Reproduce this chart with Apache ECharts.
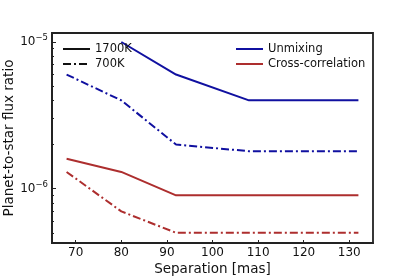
<!DOCTYPE html>
<html><head><meta charset="utf-8">
<script src="https://cdn.jsdelivr.net/npm/echarts@6/dist/echarts.min.js"></script>
<style>html,body{margin:0;padding:0;background:#fff}#c{width:415px;height:277px}</style>
</head><body><div id="c"></div>
<script>
const separation = [68, 80, 92, 108, 132];
const unmixing1700 = [null, 1.0e-5, 6.0e-6, 4.0e-6, 4.0e-6];
const unmixing700 = [6.0e-6, 4.0e-6, 2.0e-6, 1.8e-6, 1.8e-6];
const cc1700 = [1.6e-6, 1.3e-6, 9.0e-7, 9.0e-7, 9.0e-7];
const cc700 = [1.3e-6, 7.0e-7, 5.0e-7, 5.0e-7, 5.0e-7];
const xTicks = [70, 80, 90, 100, 110, 120, 130];
const yMajor = [1e-6, 1e-5];
const yMinor = [5e-7, 6e-7, 7e-7, 8e-7, 9e-7, 2e-6, 3e-6, 4e-6, 5e-6, 6e-6, 7e-6, 8e-6, 9e-6];

const BLUE = '#1010a0', RED = '#ad2e2e';
const DASHDOT = [8, 3, 2, 3];
const font = 'DejaVu Sans';
function pts(ys){ return separation.map((x,i)=> ys[i]==null ? null : [x, ys[i]]).filter(p=>p); }
function line(name, ys, color, dash){
  return {name, type:'line', data: pts(ys), symbol:'none', animation:false,
    lineStyle:{color, width:2, type: dash ? DASHDOT : 'solid'}, itemStyle:{color}, z:3};
}
const chart = echarts.init(document.getElementById('c'), null, {renderer:'canvas'});
const common = {min:4.26e-7, max:1.152e-5};
const legendCommon = {orient:'vertical', itemWidth:27, itemHeight:14, itemGap:3, selectedMode:false,
  itemStyle:{opacity:0, borderWidth:0}, textStyle:{fontFamily:font, fontSize:11.5, color:'#111'}};
chart.setOption({
  animation:false,
  textStyle:{fontFamily:font},
  grid:{left:52, right:42, top:33, bottom:34, outerBoundsMode:'none', containLabel:false, show:true, borderColor:'#222', borderWidth:1.8, backgroundColor:'transparent'},
  legend:[
    Object.assign({data:[{name:'1700K', lineStyle:{type:'solid'}}, {name:'700K', lineStyle:{type:DASHDOT}}], left:57, top:38}, legendCommon),
    Object.assign({data:['Unmixing','Cross-correlation'], left:230, top:38}, legendCommon)
  ],
  xAxis:{type:'value', min:64.8, max:135.2, splitLine:{show:false},
    name:'Separation [mas]', nameLocation:'middle', nameGap:19, nameMoveOverlap:false,
    nameTextStyle:{fontFamily:font, fontSize:13.5, color:'#111'},
    axisLine:{show:true, lineStyle:{color:'#222', width:1.8}},
    axisTick:{show:true, inside:true, length:3, customValues:xTicks, lineStyle:{color:'#222'}},
    axisLabel:{customValues:xTicks, margin:4, fontFamily:font, fontSize:12, color:'#111'}
  },
  yAxis:[
    Object.assign({type:'log', logBase:10, splitLine:{show:false},
      name:'Planet-to-star flux ratio', nameLocation:'middle', nameGap:36, nameMoveOverlap:false,
      nameTextStyle:{fontFamily:font, fontSize:13.5, color:'#111'},
      axisLine:{show:true, lineStyle:{color:'#222', width:1.8}},
      axisTick:{show:true, inside:true, length:4, customValues:yMajor, lineStyle:{color:'#222'}},
      axisLabel:{customValues:yMajor, margin:4, color:'#111',
        formatter:(v)=>{ const e = Math.round(Math.log10(v)); return '10{s|' + (e<0?'−':'') + Math.abs(e) + '}'; },
        rich:{s:{fontSize:8.5, fontFamily:font, color:'#111', padding:[0,0,8,0]}},
        fontFamily:font, fontSize:12}
    }, common),
    Object.assign({type:'log', logBase:10, position:'left', splitLine:{show:false},
      axisLine:{show:false}, axisLabel:{show:false},
      axisTick:{show:true, inside:true, length:2, customValues:yMinor, lineStyle:{color:'#222'}}
    }, common)
  ],
  series:[
    {name:'1700K', type:'line', data:[], symbol:'none', lineStyle:{color:'#111', width:2, type:'solid'}, itemStyle:{color:'#111'}},
    {name:'700K', type:'line', data:[], symbol:'none', lineStyle:{color:'#111', width:2, type:DASHDOT}, itemStyle:{color:'#111'}},
    line('Unmixing', unmixing1700, BLUE, false),
    line('Unmixing', unmixing700, BLUE, true),
    line('Cross-correlation', cc1700, RED, false),
    line('Cross-correlation', cc700, RED, true)
  ]
});
</script></body></html>
